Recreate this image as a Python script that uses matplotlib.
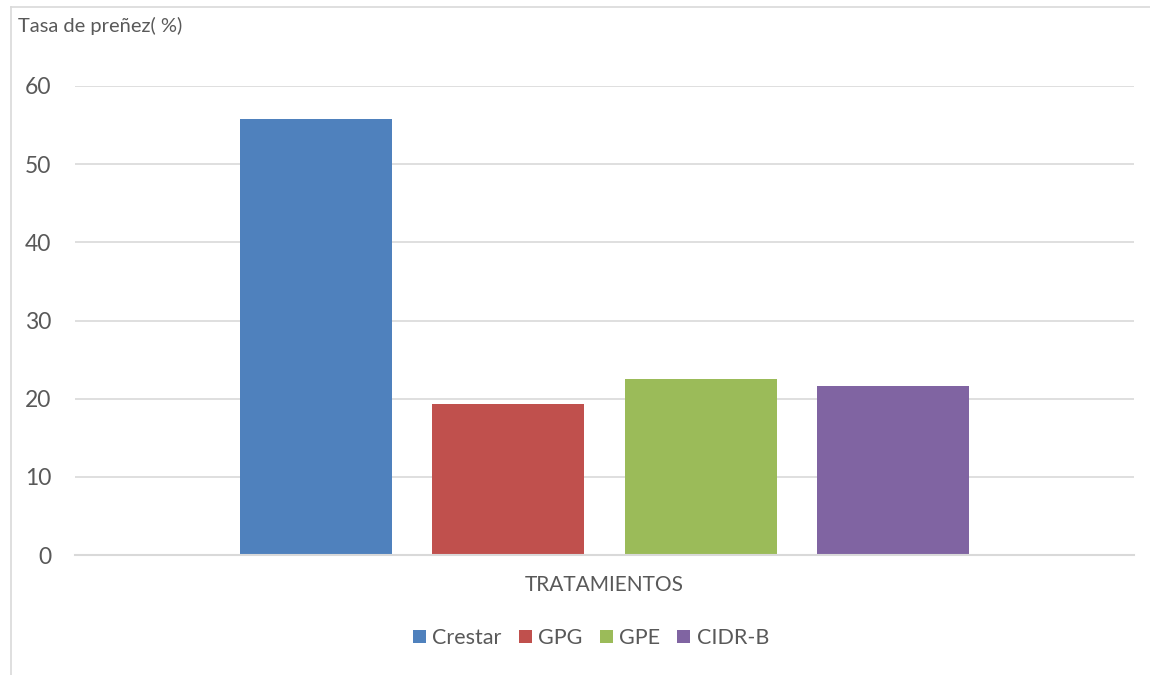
import matplotlib.pyplot as plt
from matplotlib.lines import Line2D
from matplotlib.patches import Patch

series = ["Crestar", "GPG", "GPE", "CIDR-B"]
values = [55.8, 19.3, 22.5, 21.6]
colors = ["#4f81bd", "#c0504d", "#9bbb59", "#8064a2"]
yticks = [0, 10, 20, 30, 40, 50, 60]

plt.rcParams['font.family'] = ['Lato', 'DejaVu Sans']
txt = "#595959"
grid = "#d9d9d9"

fig = plt.figure(figsize=(11.5, 6.75), dpi=100)
ax = fig.add_axes([75/1150, 1-555/675, (1134-75)/1150, (555-86)/675])

step = 192/152
xs = [i*step for i in range(len(series))]
for x, v, c in zip(xs, values, colors):
    ax.bar(x, v, width=1.0, color=c, zorder=3)

side = 165/152
ax.set_xlim(-0.5-side, xs[-1]+0.5+side)
ax.set_ylim(0, 60)
ax.set_yticks(yticks)
ax.set_yticklabels([str(t) for t in yticks], fontsize=16.5, color=txt)
ax.tick_params(axis='y', length=0, pad=17)
ax.set_xticks([])
ax.yaxis.grid(True, color=grid, linewidth=1.2, zorder=0)
for s in ['top', 'right', 'left']:
    ax.spines[s].set_visible(False)
ax.spines['bottom'].set_color(grid)
ax.spines['bottom'].set_linewidth(1.5)
ax.spines['bottom'].set_zorder(4)

fig.text(0.5252, 1-585/675, "TRATAMIENTOS", ha='center', va='center', fontsize=15, color=txt)
fig.text(18/1150, 1-26/675, "Tasa de preñez( %)", ha='left', va='center', fontsize=14.5, color=txt)

handles = [Patch(facecolor=c, edgecolor='none') for c in colors]
fig.legend(handles, series, loc='center', bbox_to_anchor=(591/1150, 1-638/675), ncol=4,
           frameon=False, fontsize=15.5, labelcolor=txt, handlelength=0.6, handleheight=0.6,
           handletextpad=0.3, columnspacing=0.8)

# chart border
fig.add_artist(Line2D([11/1150, 1], [1-7/675, 1-7/675], color=grid, linewidth=1.2))
fig.add_artist(Line2D([11/1150, 11/1150], [0, 1-7/675], color=grid, linewidth=1.2))

fig.savefig("out.png", dpi=100)
